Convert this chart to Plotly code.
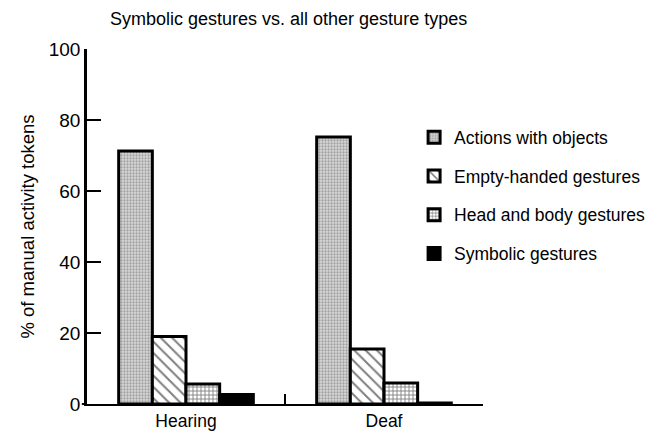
import plotly.graph_objects as go

groups = ["Hearing", "Deaf"]
series_names = ["Actions with objects", "Empty-handed gestures",
                "Head and body gestures", "Symbolic gestures"]
actions = [71.3, 75.2]
empty_handed = [19.0, 15.5]
head_body = [5.6, 5.9]
symbolic = [2.7, 0.3]
y_ticks = [0, 20, 40, 60, 80, 100]

FONT = "Liberation Sans, Arial, Helvetica, sans-serif"

patterns = [
    dict(shape=".", fgcolor="#6a6a6a", bgcolor="#d8d8d8", size=3, solidity=0.45),
    dict(shape="\\", fgcolor="black", bgcolor="white", size=8, solidity=0.25),
    dict(shape="+", fgcolor="black", bgcolor="white", size=4, solidity=0.4),
    dict(shape="", fgcolor="black", bgcolor="black"),
]
values = [actions, empty_handed, head_body, symbolic]

fig = go.Figure()
for i, (name, vals, pat) in enumerate(zip(series_names, values, patterns)):
    fig.add_trace(go.Bar(
        x=groups, y=vals, name=name, legendgroup=name,
        marker=dict(color="black" if i == 3 else "white",
                    line=dict(color="black", width=3),
                    pattern=pat),
    ))

W, H = 649, 431
fig.update_layout(
    width=W, height=H,
    margin=dict(l=79, r=174, t=41, b=35, autoexpand=False),
    paper_bgcolor="white", plot_bgcolor="white",
    barmode="group", bargap=0.32, bargroupgap=0,
    font=dict(family=FONT, size=18, color="black"),
    title=dict(text="Symbolic gestures vs. all other gesture types",
               x=102 / W, xanchor="left", xref="container",
               y=1 - 11 / H, yanchor="middle",
               font=dict(family=FONT, size=18, color="black")),
    showlegend=True,
    legend=dict(x=0.826, y=0.802, xanchor="left", yanchor="top",
                font=dict(family=FONT, size=17.5, color="black"),
                tracegroupgap=13, bgcolor="rgba(0,0,0,0)"),
    xaxis=dict(range=[-0.5, 1.5], showline=True, linecolor="black", linewidth=2,
               ticks="inside", ticklen=10, tickwidth=2, tickcolor="black",
               tickson="boundaries", showgrid=False, zeroline=False,
               tickfont=dict(family=FONT, size=17.5)),
    yaxis=dict(range=[0, 100], tickvals=y_ticks, showline=True, linecolor="black",
               linewidth=2.5, ticks="inside", ticklen=14, tickwidth=2,
               tickcolor="black", showgrid=False, zeroline=False,
               tickfont=dict(family=FONT, size=19),
               title=dict(text="% of manual activity tokens", standoff=10,
                          font=dict(family=FONT, size=18.5))),
)

fig.add_shape(type="line", xref="paper", yref="paper", x0=-0.013, x1=0, y0=0, y1=0,
              line=dict(color="black", width=2))

fig.write_html("out.html")
